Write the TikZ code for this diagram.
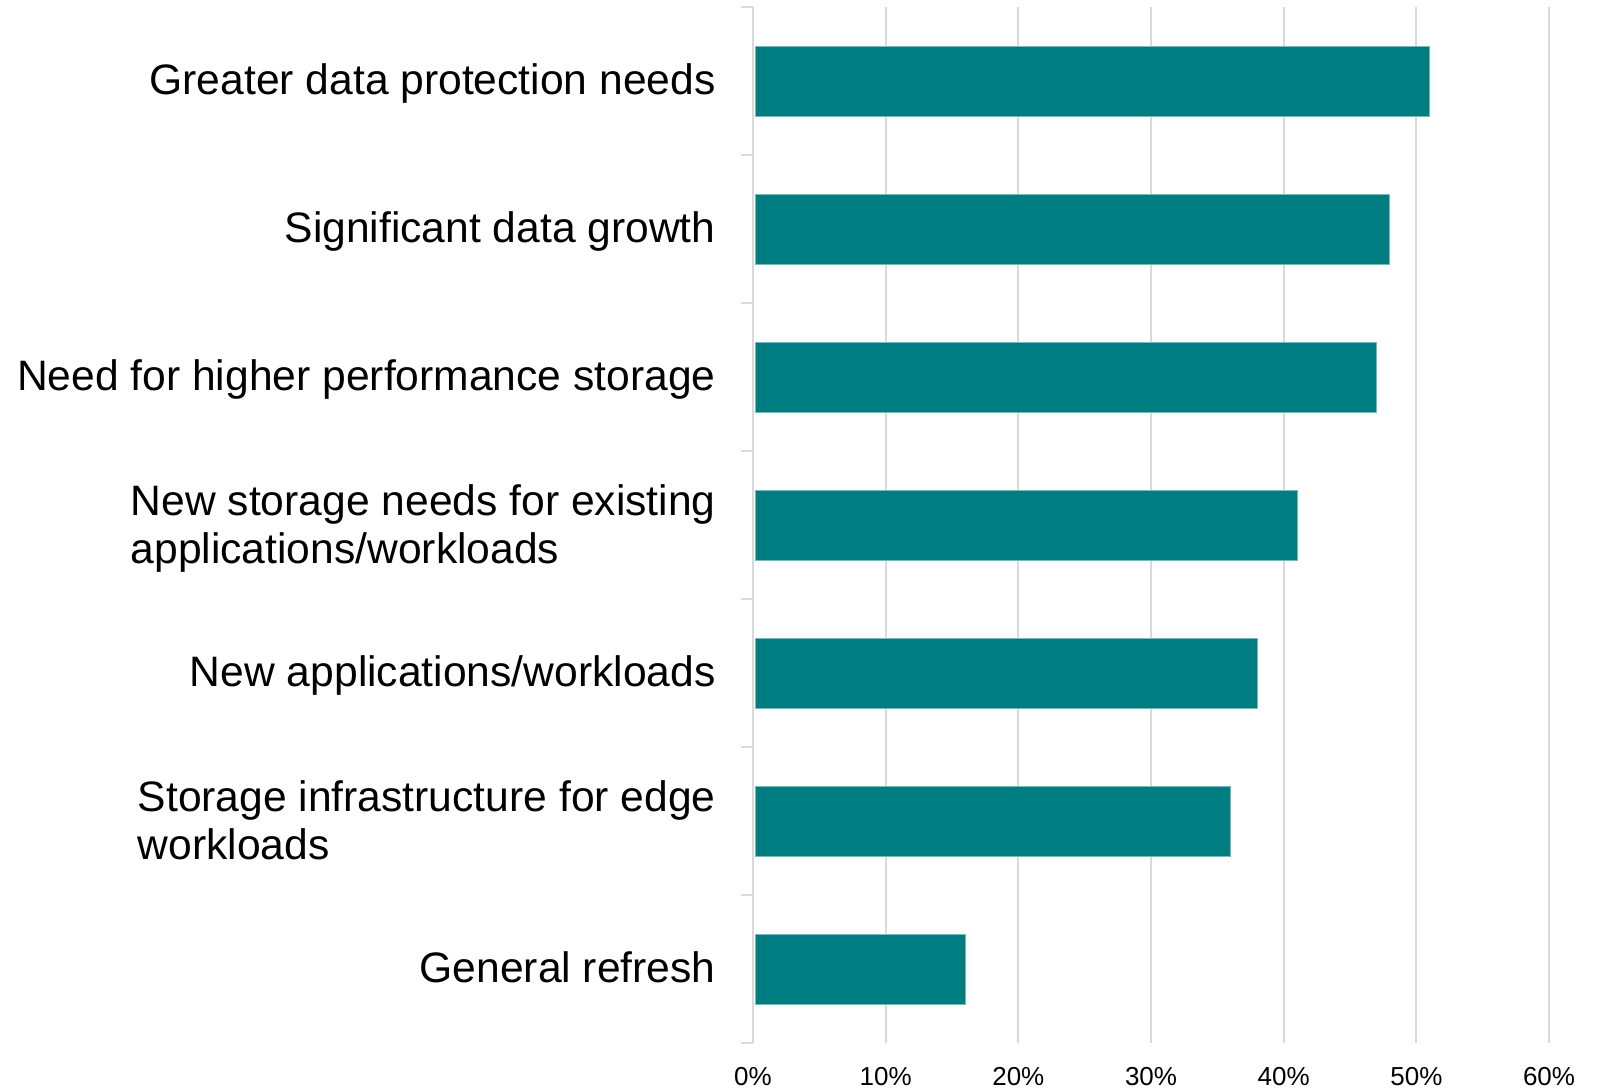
\documentclass[tikz,border=0pt]{standalone}
\usepackage{fontspec}
\setmainfont{Liberation Sans}
\definecolor{barteal}{RGB}{0,125,128}
\definecolor{baredge}{RGB}{120,185,188}
\definecolor{gridgray}{RGB}{217,217,217}
\begin{document}
\begin{tikzpicture}[x=0.5pt,y=-0.5pt,
  gridline/.style={draw=gridgray,line width=1pt},
  axisline/.style={draw=gridgray,line width=1pt},
  barbox/.style={fill=barteal,draw=baredge,line width=0.35pt},
  catlabel/.style={anchor=base east,inner sep=0pt,align=left,font=\fontsize{21.3}{24}\selectfont},
  ticklabel/.style={anchor=base,inner sep=0pt,font=\fontsize{13}{15}\selectfont}]
\useasboundingbox[fill=white] (0,0) rectangle (1600,1088);
% gridlines
\foreach \k in {1,...,6}{
  \draw[gridline] ({753+132.67*\k},7) -- ({753+132.67*\k},1043);
}
% axis
\draw[axisline] (753,7) -- (753,1043);
\foreach \i in {0,...,7}{
  \draw[axisline] (741,{7+148*\i}) -- (753,{7+148*\i});
}
% bars
\foreach \v [count=\i from 0] in {51,48,47,41,38,36,16}{
  \draw[barbox] (755.5,{81+148*\i-35}) rectangle ({753+13.267*\v},{81+148*\i+35});
}
% category labels
\node[catlabel] (c1) at (716,94) {Greater data protection needs};
\node[catlabel] (c2) at (716,242) {Significant data growth};
\node[catlabel] (c3) at (716,390) {Need for higher performance storage};
\node[catlabel] (c4) at (716,563) {New storage needs for existing\\applications/workloads};
\node[catlabel] (c5) at (716,686) {New applications/workloads};
\node[catlabel] (c6) at (716,859) {Storage infrastructure for edge\\workloads};
\node[catlabel] (c7) at (716,982) {General refresh};
% tick labels
\foreach \k in {0,...,6}{
  \node[ticklabel] (t\k) at ({753+132.67*\k},1085) {\the\numexpr\k*10\relax\%};
}
\end{tikzpicture}
\end{document}
